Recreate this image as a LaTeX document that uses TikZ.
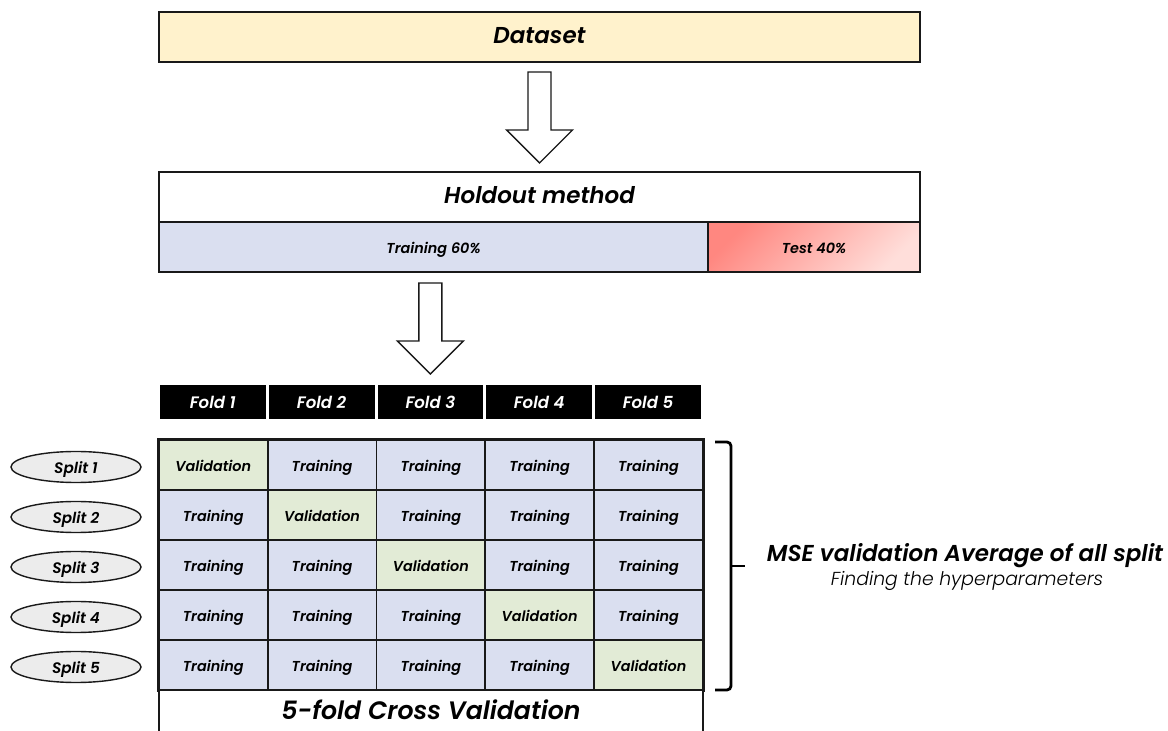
\documentclass[tikz,border=0pt]{standalone}
\usepackage{fontspec}
\setmainfont{Poppins}[BoldFont={* SemiBold},BoldItalicFont={* SemiBold Italic},ItalicFont={* Light Italic}]
\usetikzlibrary{calc,shapes.geometric}
\definecolor{databg}{RGB}{255,242,204}
\definecolor{trainbg}{RGB}{218,223,240}
\definecolor{validbg}{RGB}{226,235,214}
\definecolor{testdark}{RGB}{255,135,128}
\definecolor{testlight}{RGB}{255,222,218}
\definecolor{splitbg}{RGB}{236,236,236}
\definecolor{linescolor}{RGB}{25,25,25}

\newcommand{\cellfont}{\fontsize{7.2}{8}\selectfont\bfseries\itshape}
\newcommand{\titlefont}{\fontsize{11.5}{13}\selectfont\bfseries\itshape}
\newcommand{\blockarrow}[1]{
	% hollow arrow, shaft 23px, head 66px
	\draw[color=linescolor,line width=0.7pt,fill=white] #1 ++(-11.5,0) -- ++(0,58) -- ++(-21.5,0)
		-- ++(33,33) -- ++(33,-33) -- ++(-21.5,0) -- ++(0,-58) -- cycle;
}

\tikzset{
	box/.style={draw=linescolor,line width=1pt,inner sep=0pt,anchor=north west,text height=1.6ex,text depth=0.4ex},
	cell/.style={box,line width=0.85pt,minimum width=54.4pt,minimum height=25pt,font=\cellfont},
	foldhead/.style={fill=black,text=white,inner sep=0pt,anchor=north west,text height=1.6ex,text depth=0.4ex,
		minimum width=52.9pt,minimum height=17pt,font=\fontsize{8.3}{9}\selectfont\bfseries\itshape},
	splitnode/.style={ellipse,draw=linescolor,line width=0.7pt,fill=splitbg,inner sep=0pt,text height=1.6ex,text depth=0.4ex,
		minimum width=65pt,minimum height=12pt,font=\fontsize{7.6}{8}\selectfont\bfseries\itshape},
}

\begin{document}
\begin{tikzpicture}[x=0.5pt,y=-0.5pt]

\useasboundingbox (0,0) rectangle (1168,731);
\clip (0,0) rectangle (1168,731);

% dataset
\node [box,fill=databg,minimum width=380.5pt,minimum height=25pt,font=\titlefont] (dataset) at (158,11) {Dataset};
\blockarrow{($(dataset.south)+(0,9)$)}

% holdout split
\node [box,fill=white,minimum width=380.5pt,minimum height=25pt,font=\titlefont] (holdout) at (158,171) {Holdout method};
\node [box,fill=trainbg,minimum width=274.5pt,minimum height=25pt,font=\cellfont] (train) at (158,221) {Training 60\%};
\node [box,top color=testdark,bottom color=testlight,shading angle=45,minimum width=106pt,minimum height=25pt,font=\cellfont] (test) at (707,221) {Test 40\%};

% folds
\foreach \c in {1,...,5}{
	\node [foldhead] (fold\c) at ({158+(\c-1)*108.8+1.5},385) {Fold \c};
}
\blockarrow{($(fold3.north)+(0,-102)$)}

% grid of splits
\foreach \r in {1,...,5}{
	\foreach \c in {1,...,5}{
		\ifnum\r=\c \def\celltext{Validation}\def\cellcol{validbg}\else \def\celltext{Training}\def\cellcol{trainbg}\fi
		\node [cell,fill=\cellcol] (cell-\r-\c) at ({158+(\c-1)*108.8},{439+(\r-1)*50}) {\celltext};
	}
	\node [splitnode] (split\r) at (76,{467+(\r-1)*50}) {Split \r};
}
\draw [color=linescolor,line width=1pt] (cell-1-1.north west) rectangle (cell-5-5.south east);

% bottom
\node [box,fill=white,minimum width=272pt,minimum height=23pt,font=\fontsize{12.6}{15}\selectfont\bfseries\itshape] (cvbox) at (158,689) {5-fold Cross Validation};

% bracket and result
\draw [color=black,line width=1.4pt,rounded corners=2pt] (715,442) -- (731,442) -- (731,690) -- (715,690);
\draw [color=black,line width=1.4pt] (731,566) -- (745,566);
\node [font=\titlefont] (mse) at (965,556) {MSE validation Average of all split};
\node [font=\fontsize{9.4}{11}\selectfont\itshape] (hyper) at (967,581) {Finding the hyperparameters};

\end{tikzpicture}
\end{document}
